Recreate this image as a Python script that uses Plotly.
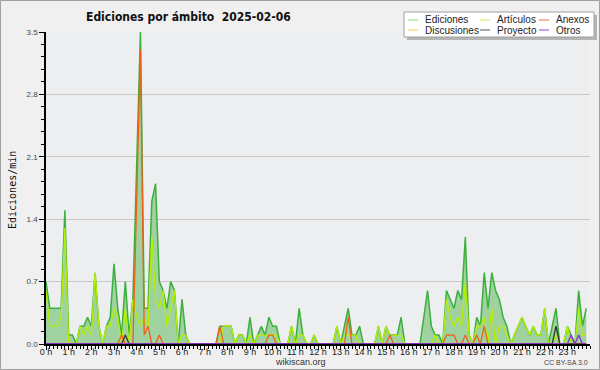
import plotly.graph_objects as go

# 10-minute slots over the day (144 slots), values in edits/min
slot_hours = [i / 6 for i in range(144)]

ediciones = [
    0.7, 0.4, 0.4, 0.4, 0.4, 1.5, 0.1, 0.1, 0.0, 0.2, 0.2, 0.3,
    0.2, 0.8, 0.2, 0.0, 0.2, 0.3, 0.9, 0.4, 0.1, 0.7, 0.1, 0.5,
    2.0, 3.5, 0.4, 0.4, 1.6, 1.8, 0.7, 0.6, 0.4, 0.7, 0.6, 0.0,
    0.5, 0.1, 0.0, 0.0, 0.0, 0.0, 0.0, 0.0, 0.0, 0.0, 0.2, 0.2,
    0.2, 0.2, 0.0, 0.1, 0.1, 0.0, 0.3, 0.0, 0.1, 0.2, 0.1, 0.3,
    0.2, 0.2, 0.0, 0.0, 0.0, 0.2, 0.0, 0.4, 0.1, 0.0, 0.0, 0.1,
    0.0, 0.0, 0.0, 0.0, 0.0, 0.2, 0.0, 0.2, 0.4, 0.1, 0.1, 0.2,
    0.0, 0.0, 0.0, 0.0, 0.2, 0.0, 0.2, 0.1, 0.1, 0.1, 0.3, 0.0,
    0.0, 0.0, 0.0, 0.0, 0.3, 0.6, 0.2, 0.1, 0.1, 0.0, 0.6, 0.5,
    0.4, 0.6, 0.5, 1.2, 0.1, 0.0, 0.3, 0.2, 0.8, 0.4, 0.8, 0.6,
    0.5, 0.3, 0.2, 0.0, 0.1, 0.2, 0.3, 0.2, 0.1, 0.2, 0.1, 0.1,
    0.4, 0.0, 0.2, 0.4, 0.0, 0.0, 0.2, 0.1, 0.0, 0.6, 0.2, 0.4,
]

articulos = [
    0.6, 0.2, 0.2, 0.2, 0.3, 1.3, 0.0, 0.0, 0.0, 0.2, 0.1, 0.2,
    0.1, 0.8, 0.2, 0.0, 0.2, 0.2, 0.4, 0.3, 0.0, 0.4, 0.0, 0.5,
    0.3, 0.2, 0.3, 0.2, 1.2, 0.5, 0.4, 0.6, 0.2, 0.4, 0.6, 0.0,
    0.1, 0.1, 0.0, 0.0, 0.0, 0.0, 0.0, 0.0, 0.0, 0.0, 0.0, 0.2,
    0.2, 0.2, 0.0, 0.1, 0.1, 0.0, 0.1, 0.0, 0.1, 0.1, 0.1, 0.1,
    0.1, 0.1, 0.0, 0.0, 0.0, 0.2, 0.0, 0.1, 0.1, 0.0, 0.0, 0.1,
    0.0, 0.0, 0.0, 0.0, 0.0, 0.2, 0.0, 0.1, 0.1, 0.1, 0.1, 0.0,
    0.0, 0.0, 0.0, 0.0, 0.2, 0.0, 0.2, 0.1, 0.1, 0.1, 0.1, 0.0,
    0.0, 0.0, 0.0, 0.0, 0.0, 0.0, 0.0, 0.1, 0.0, 0.0, 0.5, 0.3,
    0.2, 0.3, 0.2, 0.7, 0.1, 0.0, 0.2, 0.2, 0.3, 0.0, 0.4, 0.0,
    0.2, 0.2, 0.1, 0.0, 0.1, 0.2, 0.3, 0.2, 0.1, 0.2, 0.1, 0.1,
    0.4, 0.0, 0.0, 0.1, 0.0, 0.0, 0.2, 0.0, 0.0, 0.4, 0.1, 0.1,
]

anexos = [0.0] * 144
for i, v in {20: 0.1, 24: 1.6, 25: 3.3, 26: 0.1, 27: 0.2, 30: 0.1, 46: 0.2,
             59: 0.1, 60: 0.1, 80: 0.3, 91: 0.1, 106: 0.1, 107: 0.1, 108: 0.1,
             111: 0.1, 114: 0.1, 116: 0.2}.items():
    anexos[i] = v

discusiones = [0.0] * 144

proyecto = [0.0] * 144
for i, v in {21: 0.1, 135: 0.2}.items():
    proyecto[i] = v

otros = [0.0] * 144
for i, v in {139: 0.1, 141: 0.1}.items():
    otros[i] = v

hour_ticks = list(range(24))
hour_labels = [f"{h} h" for h in hour_ticks]
y_ticks = [0.0, 0.7, 1.4, 2.1, 2.8, 3.5]

legend_names = ["Ediciones", "Artículos", "Anexos", "Discusiones", "Proyecto", "Otros"]
legend_colors = ["#8fd08f", "#c8f060", "#f07040", "#f5d040", "#555555", "#9040e0"]

fig = go.Figure()
fig.add_trace(go.Scatter(x=slot_hours, y=ediciones, mode="lines", fill="tozeroy",
                         fillcolor="#a0d1a0", line=dict(color="#3cb03c", width=1.5),
                         name="Ediciones", showlegend=False))
fig.add_trace(go.Scatter(x=slot_hours, y=discusiones, mode="lines",
                         line=dict(color="#f5d040", width=1.3), showlegend=False))
fig.add_trace(go.Scatter(x=slot_hours, y=articulos, mode="lines",
                         line=dict(color="#b4f000", width=1.3), showlegend=False))
fig.add_trace(go.Scatter(x=slot_hours, y=anexos, mode="lines",
                         line=dict(color="#f0601a", width=1.3), showlegend=False))
fig.add_trace(go.Scatter(x=slot_hours, y=proyecto, mode="lines",
                         line=dict(color="#333333", width=1.3), showlegend=False))
fig.add_trace(go.Scatter(x=slot_hours, y=otros, mode="lines",
                         line=dict(color="#8a2be2", width=1.3), showlegend=False))

L, T, W, H = 46, 32, 544, 312


def px(x):
    return (x - L) / W


def py(y):
    return (T + H - y) / H


shapes = [
    # outer frame
    dict(type="rect", xref="paper", yref="paper", x0=px(0.5), x1=px(599.5),
         y0=py(369.5), y1=py(0.5), line=dict(color="#a0a0a0", width=1), layer="below"),
    # legend shadow and box
    dict(type="rect", xref="paper", yref="paper", x0=px(407), x1=px(597),
         y0=py(40), y1=py(15), line=dict(width=0), fillcolor="#b4b4b4"),
    dict(type="rect", xref="paper", yref="paper", x0=px(404), x1=px(594),
         y0=py(37), y1=py(12), line=dict(color="#a0a0a0", width=1), fillcolor="#ffffff"),
]
annotations = []
col_x = [408, 480, 539]
row_y = [20, 30]
for k, (name, col) in enumerate(zip(legend_names, legend_colors)):
    r, c = divmod(k, 3)
    x0 = col_x[c]
    y0 = row_y[r]
    shapes.append(dict(type="line", xref="paper", yref="paper", x0=px(x0), x1=px(x0 + 10),
                       y0=py(y0), y1=py(y0), line=dict(color=col, width=1)))
    annotations.append(dict(text=name, xref="paper", yref="paper", x=px(x0 + 15), y=py(y0),
                            xanchor="left", yanchor="middle", showarrow=False,
                            font=dict(family="Liberation Sans, Arial, sans-serif", size=10, color="#222222")))

annotations += [
    dict(text="<b>Ediciones por ámbito\u00a0 2025-02-06</b>", xref="paper", yref="paper",
         x=px(188), y=py(17), xanchor="center", yanchor="middle", showarrow=False,
         font=dict(family="Liberation Sans Narrow, DejaVu Sans Condensed, Arial Narrow, sans-serif",
                   size=12, color="#111111")),
    dict(text="Ediciones/min", xref="paper", yref="paper", x=px(12), y=py(190),
         xanchor="center", yanchor="middle", textangle=-90, showarrow=False,
         font=dict(family="DejaVu Sans Mono, monospace", size=10, color="#111111")),
    dict(text="wikiscan.org", xref="paper", yref="paper", x=px(300), y=py(362),
         xanchor="center", yanchor="middle", showarrow=False,
         font=dict(family="Liberation Sans, Arial, sans-serif", size=9, color="#333333")),
    dict(text="CC BY-SA 3.0", xref="paper", yref="paper", x=px(590), y=py(362),
         xanchor="right", yanchor="middle", showarrow=False,
         font=dict(family="Liberation Sans, Arial, sans-serif", size=7, color="#444444")),
]

fig.update_layout(
    width=600, height=370,
    margin=dict(l=L, r=600 - L - W, t=T, b=370 - T - H, autoexpand=False),
    paper_bgcolor="#f0f0f0",
    plot_bgcolor="#eceef0",
    showlegend=False,
    shapes=shapes,
    annotations=annotations,
    xaxis=dict(range=[0, 24], tickvals=hour_ticks, ticktext=hour_labels, automargin=False,
               ticks="outside", ticklen=4, tickcolor="#000000", tickwidth=1,
               ticklabelstandoff=-6,
               minor=dict(dtick=1 / 6, tick0=0, ticks="outside", ticklen=3,
                          tickcolor="#000000", showgrid=False),
               showline=True, linecolor="#000000", linewidth=1.5,
               showgrid=False, zeroline=False,
               tickfont=dict(family="Liberation Sans, Arial, sans-serif", size=9, color="#222222")),
    yaxis=dict(range=[0, 3.5], tickvals=y_ticks, tickformat=".1f", automargin=False,
               ticks="outside", ticklen=5, tickcolor="#000000",
               minor=dict(dtick=0.14, tick0=0, ticks="outside", ticklen=3,
                          tickcolor="#000000", showgrid=False),
               showline=True, linecolor="#000000", linewidth=1.5,
               showgrid=True, gridcolor="#c8c8c8", gridwidth=1, zeroline=False,
               tickfont=dict(family="Liberation Sans, Arial, sans-serif", size=8, color="#444444")),
)

fig.write_html("out.html", config={"displayModeBar": False},
               post_script="document.body.style.margin='0';document.body.style.overflow='hidden';")
